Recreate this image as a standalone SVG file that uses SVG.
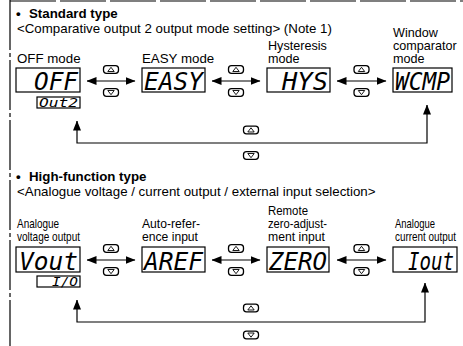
<svg xmlns="http://www.w3.org/2000/svg" width="463" height="346" viewBox="0 0 463 346">
<style>
.t{font-family:"Liberation Sans",Arial,sans-serif;font-size:13.3px;fill:#000}
.s{font-size:12.6px}
.b{font-weight:bold}
.lcd{font-family:"DejaVu Sans Mono",monospace;font-style:italic;font-size:24px;fill:#000}
.lcds{font-family:"DejaVu Sans Mono",monospace;font-style:italic;font-size:12px;fill:#000}
.box{fill:#fff;stroke:#000;stroke-width:1.2}
.btn{fill:#fff;stroke:#000;stroke-width:1.3}
.tri{fill:none;stroke:#000;stroke-width:0.9}
.arr{fill:none;stroke:#000;stroke-width:1.2;marker-start:url(#ah);marker-end:url(#ah)}
.frame{fill:none;stroke:#000;stroke-width:1.2}
</style>
<defs>
<marker id="ah" viewBox="0 0 10 8" refX="9.5" refY="4" markerWidth="10" markerHeight="8" markerUnits="userSpaceOnUse" orient="auto-start-reverse"><path d="M0,0 L10,4 L0,8 z" fill="#000"/></marker>
<g id="up"><rect x="-7.5" y="-3.8" width="15" height="7.6" rx="3" class="btn"/><path d="M-3.2,2 L0,-2.2 L3.2,2 z" class="tri"/></g>
<g id="dn"><rect x="-7.5" y="-3.8" width="15" height="7.6" rx="3" class="btn"/><path d="M-3.2,-2 L0,2.2 L3.2,-2 z" class="tri"/></g>
</defs>
<rect width="463" height="346" fill="#fff"/>
<g id="frame">
<line x1="10" y1="1" x2="463" y2="1" class="frame" stroke-dasharray="46 4"/>
<line x1="10" y1="0" x2="10" y2="346" class="frame" stroke-dasharray="50 3 4 3"/>
</g>
<g id="headings">
<text class="t b" x="16" y="17.5">•<tspan x="29">Standard type</tspan></text>
<text class="t" x="17" y="32.5">&lt;Comparative output 2 output mode setting&gt; (Note 1)</text>
<text class="t b" x="16" y="181">•<tspan x="29">High-function type</tspan></text>
<text class="t" x="17" y="195.5">&lt;Analogue voltage / current output / external input selection&gt;</text>
</g>
<g id="connectors">
<line x1="87" y1="81" x2="135" y2="81" class="arr"/>
<line x1="212" y1="81" x2="260" y2="81" class="arr"/>
<line x1="337" y1="81" x2="386" y2="81" class="arr"/>
<use href="#up" x="111" y="69.5"/><use href="#dn" x="111" y="92.5"/>
<use href="#up" x="236" y="69.5"/><use href="#dn" x="236" y="92.5"/>
<use href="#up" x="361.5" y="69.5"/><use href="#dn" x="361.5" y="92.5"/>
<path d="M427,105 V143 H77 V121" class="arr"/>
<use href="#up" x="251" y="130"/><use href="#dn" x="251" y="155.5"/>
<line x1="87" y1="260" x2="135" y2="260" class="arr"/>
<line x1="212" y1="260" x2="260" y2="260" class="arr"/>
<line x1="337" y1="260" x2="386" y2="260" class="arr"/>
<use href="#up" x="111" y="248.5"/><use href="#dn" x="111" y="271.5"/>
<use href="#up" x="236" y="248.5"/><use href="#dn" x="236" y="271.5"/>
<use href="#up" x="361.5" y="248.5"/><use href="#dn" x="361.5" y="271.5"/>
<path d="M425,283 V322 H77 V300" class="arr"/>
<use href="#up" x="251" y="308"/><use href="#dn" x="251" y="335"/>
</g>
<g id="node-off">
<text class="t" x="17" y="63">OFF mode</text>
<rect x="16" y="68" width="64" height="24" class="box"/>
<text class="lcd" x="34" y="90" textLength="44" lengthAdjust="spacingAndGlyphs">OFF</text>
<rect x="37" y="97" width="43" height="11" class="box"/>
<text class="lcds" x="39" y="106.5" textLength="39" lengthAdjust="spacingAndGlyphs">Out2</text>
</g>
<g id="node-easy">
<text class="t" x="142" y="63">EASY mode</text>
<rect x="142" y="68" width="63" height="24" class="box"/>
<text class="lcd" x="144" y="90" textLength="59" lengthAdjust="spacingAndGlyphs">EASY</text>
</g>
<g id="node-hys">
<text class="t s" x="268" y="50">Hysteresis</text>
<text class="t s" x="268" y="63">mode</text>
<rect x="267" y="68" width="63" height="24" class="box"/>
<text class="lcd" x="282" y="90" textLength="46" lengthAdjust="spacingAndGlyphs">HYS</text>
</g>
<g id="node-wcmp">
<text class="t s" x="393" y="37">Window</text>
<text class="t s" x="393" y="50">comparator</text>
<text class="t s" x="393" y="63">mode</text>
<rect x="393" y="68" width="59" height="24" class="box"/>
<text class="lcd" x="395" y="90" textLength="55" lengthAdjust="spacingAndGlyphs">WCMP</text>
</g>
<g id="node-vout">
<text class="t s" x="17" y="228" textLength="42" lengthAdjust="spacingAndGlyphs">Analogue</text>
<text class="t s" x="17" y="241" textLength="63" lengthAdjust="spacingAndGlyphs">voltage output</text>
<rect x="16" y="247" width="64" height="25" class="box"/>
<text class="lcd" x="19" y="270" textLength="59" lengthAdjust="spacingAndGlyphs">Vout</text>
<rect x="37" y="276" width="43" height="11" class="box"/>
<text class="lcds" x="52" y="285.5" textLength="26" lengthAdjust="spacingAndGlyphs">I/O</text>
</g>
<g id="node-aref">
<text class="t s" x="142" y="228" textLength="58" lengthAdjust="spacingAndGlyphs">Auto-refer-</text>
<text class="t s" x="142" y="241" textLength="56" lengthAdjust="spacingAndGlyphs">ence input</text>
<rect x="142" y="247" width="63" height="25" class="box"/>
<text class="lcd" x="144" y="270" textLength="59" lengthAdjust="spacingAndGlyphs">AREF</text>
</g>
<g id="node-zero">
<text class="t s" x="268" y="215" textLength="40" lengthAdjust="spacingAndGlyphs">Remote</text>
<text class="t s" x="268" y="228" textLength="59" lengthAdjust="spacingAndGlyphs">zero-adjust-</text>
<text class="t s" x="268" y="241" textLength="57" lengthAdjust="spacingAndGlyphs">ment input</text>
<rect x="267" y="247" width="62" height="25" class="box"/>
<text class="lcd" x="269" y="270" textLength="58" lengthAdjust="spacingAndGlyphs">ZERO</text>
</g>
<g id="node-iout">
<text class="t s" x="395" y="228" textLength="40" lengthAdjust="spacingAndGlyphs">Analogue</text>
<text class="t s" x="395" y="241" textLength="61" lengthAdjust="spacingAndGlyphs">current output</text>
<rect x="393" y="247" width="64" height="25" class="box"/>
<text class="lcd" x="408" y="270" textLength="46" lengthAdjust="spacingAndGlyphs">Iout</text>
</g>
</svg>
